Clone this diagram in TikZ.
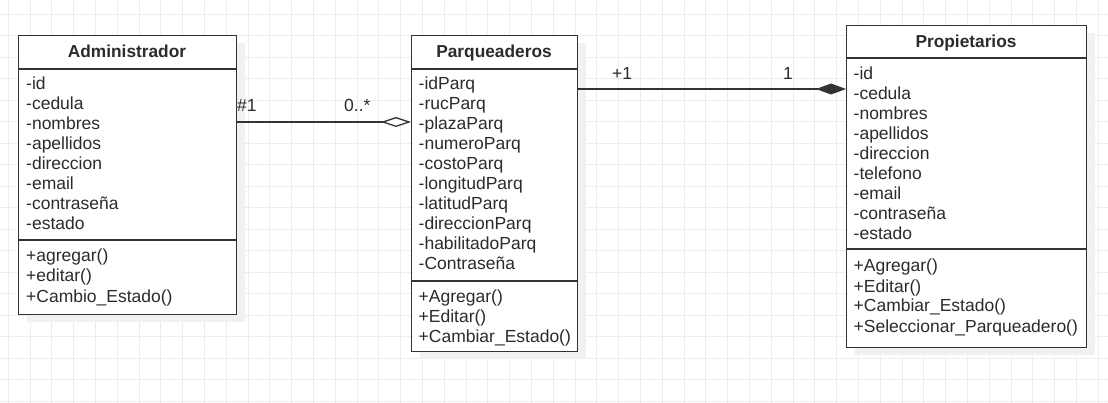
\documentclass[tikz,border=0pt]{standalone}
\usepackage{fontspec}
\setmainfont{Liberation Sans}
\usetikzlibrary{arrows.meta}
\definecolor{gridc}{HTML}{EDEDED}
\definecolor{linec}{HTML}{333333}
\definecolor{txtc}{HTML}{2B2B2B}
\definecolor{shadc}{HTML}{F1F1F1}
\begin{document}
\begin{tikzpicture}[x=1pt,y=-1pt,
  classbox/.style={draw=linec, line width=1.3pt, fill=white, inner sep=0pt, anchor=north west},
  shadowbox/.style={fill=shadc},
  title/.style={font=\fontsize{17.3}{20}\selectfont\bfseries, text=txtc, inner sep=0pt, anchor=base},
  member/.style={font=\fontsize{17.5}{20}\selectfont, text=txtc, inner sep=0pt, anchor=base west},
  sepline/.style={draw=linec, line width=1.3pt},
  conn/.style={draw=linec, line width=1.3pt},
  mult/.style={font=\fontsize{17.5}{20}\selectfont, text=txtc, inner sep=0pt, anchor=base west},
  gridline/.style={draw=gridc, line width=0.9pt}]

\useasboundingbox (0,0) rectangle (1108,403);
\fill[white] (0,0) rectangle (1108,403);
\foreach \i in {0,...,50} \draw[gridline] ({8.3+21.8*\i},0) -- ++(0,403);
\foreach \j in {0,...,19} \draw[gridline] (0,{-7.5+21.5*\j}) -- ++(1108,0);

% ---------- Administrador ----------
\fill[shadowbox] (27,43) rectangle (245,322);
\node[classbox, minimum width=218pt, minimum height=279pt] (admin) at (18,35) {};
\draw[sepline] ([yshift=-34pt]admin.north west) -- ([yshift=-34pt]admin.north east);
\draw[sepline] ([yshift=-205pt]admin.north west) -- ([yshift=-205pt]admin.north east);
\node[title] (admint) at (127,58) {Administrador};
\foreach \t [count=\k from 0] in {-id,-cedula,-nombres,-apellidos,-direccion,-email,-contraseña,-estado}
  \node[member] (admina\k) at (26,{90+20*\k}) {\t};
\foreach \t [count=\k from 0] in {+agregar(),+editar(),+Cambio\_Estado()}
  \node[member] (adminm\k) at (26,{262+20*\k}) {\t};

% ---------- Parqueaderos ----------
\fill[shadowbox] (420,43) rectangle (586,359);
\node[classbox, minimum width=166pt, minimum height=316pt] (parq) at (411,35) {};
\draw[sepline] ([yshift=-34pt]parq.north west) -- ([yshift=-34pt]parq.north east);
\draw[sepline] ([yshift=-246pt]parq.north west) -- ([yshift=-246pt]parq.north east);
\node[title] (parqt) at (494,58) {Parqueaderos};
\foreach \t [count=\k from 0] in {-idParq,-rucParq,-plazaParq,-numeroParq,-costoParq,-longitudParq,-latitudParq,-direccionParq,-habilitadoParq,-Contraseña}
  \node[member] (parqa\k) at (418.5,{90+20*\k}) {\t};
\foreach \t [count=\k from 0] in {+Agregar(),+Editar(),+Cambiar\_Estado()}
  \node[member] (parqm\k) at (418.5,{302+20*\k}) {\t};

% ---------- Propietarios ----------
\fill[shadowbox] (855,33) rectangle (1095,355);
\node[classbox, minimum width=240pt, minimum height=322pt] (prop) at (846,25) {};
\draw[sepline] ([yshift=-33pt]prop.north west) -- ([yshift=-33pt]prop.north east);
\draw[sepline] ([yshift=-224pt]prop.north west) -- ([yshift=-224pt]prop.north east);
\node[title] (propt) at (966,47.5) {Propietarios};
\foreach \t [count=\k from 0] in {-id,-cedula,-nombres,-apellidos,-direccion,-telefono,-email,-contraseña,-estado}
  \node[member] (propa\k) at (853.5,{80+20*\k}) {\t};
\foreach \t [count=\k from 0] in {+Agregar(),+Editar(),+Cambiar\_Estado(),+Seleccionar\_Parqueadero()}
  \node[member] (propm\k) at (853.5,{272+20*\k}) {\t};

% ---------- Connectors ----------
\coordinate (ya) at (0,122);
\coordinate (yb) at (0,89);
\draw[conn, -{Diamond[fill=white, length=30pt, width=10pt]}] (admin.east |- ya) -- (parq.west |- ya);
\draw[conn, -{Diamond[length=30pt, width=11pt]}] (parq.east |- yb) -- (prop.west |- yb);

\node[mult] (m1) at (237,112) {\#1};
\node[mult] (m2) at (344,112) {0..*};
\node[mult] (m3) at (612,79.5) {+1};
\node[mult] (m4) at (783,79.5) {1};
\end{tikzpicture}
\end{document}
